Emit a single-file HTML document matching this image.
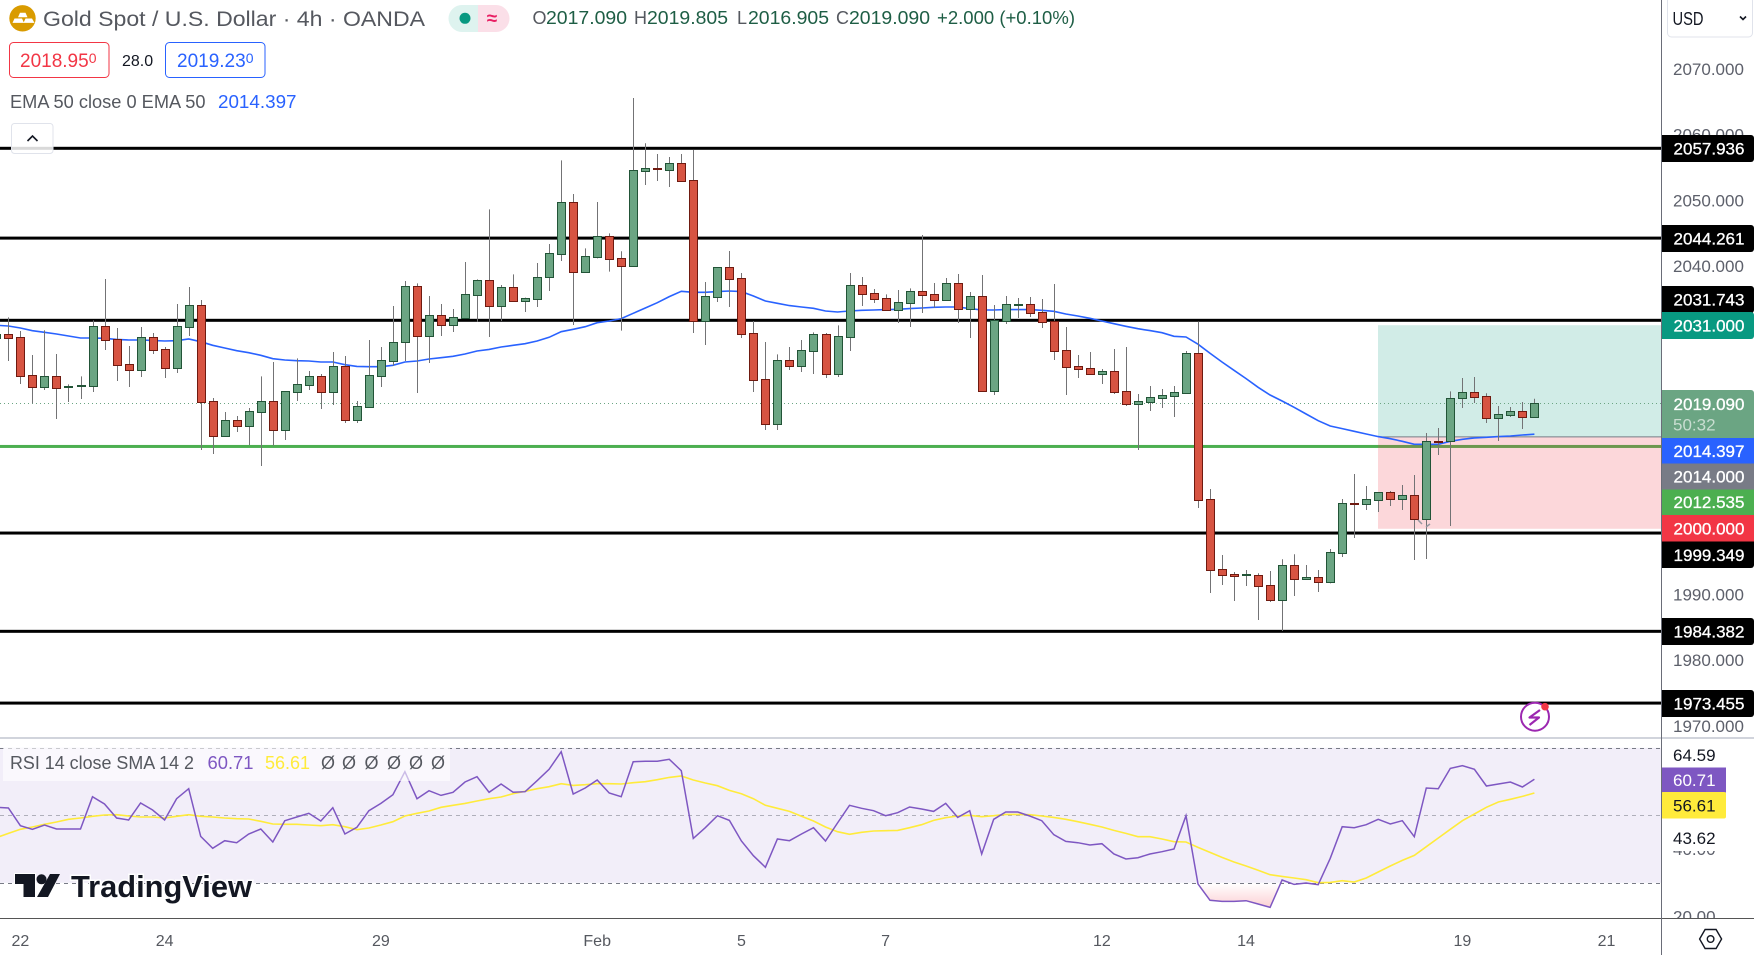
<!DOCTYPE html>
<html lang="en">
<head>
<meta charset="utf-8">
<title>Gold Spot / U.S. Dollar 4h chart</title>
<style>
html,body{margin:0;padding:0;background:#fff;}
body{width:1754px;height:955px;overflow:hidden;}
svg{display:block;}
text{font-family:"Liberation Sans",sans-serif;}
.ax{font-size:17px;fill:#5d606b;}
.lbl{font-size:17px;fill:#fff;text-anchor:middle;stroke:#fff;stroke-width:0.3px;}
.hdr{font-size:18px;fill:#55585f;}
.val{font-size:18px;fill:#1e5e45;}
.tm{font-size:16px;fill:#55585f;text-anchor:middle;}
</style>
</head>
<body>
<svg id="chart" xmlns="http://www.w3.org/2000/svg" width="1754" height="955" viewBox="0 0 1754 955">
<defs>
<clipPath id="mainClip"><rect x="0" y="0" width="1661" height="737"/></clipPath>
<clipPath id="rsiClip"><rect x="0" y="740" width="1661" height="178"/></clipPath>
<linearGradient id="osGrad" gradientUnits="userSpaceOnUse" x1="0" y1="883.3" x2="0" y2="908"><stop offset="0" stop-color="#f23645" stop-opacity="0"/><stop offset="1" stop-color="#f23645" stop-opacity="0.24"/></linearGradient>
</defs>
<rect x="0" y="0" width="1754" height="955" fill="#fff"/>

<g id="mainPane" clip-path="url(#mainClip)">
  <g id="levels"></g>
  <g id="positionBox"></g>
  <g id="lastLine"></g>
  <g id="emaLayer"></g>
  <g id="candles"></g>
  <path d="M1418 520l4 4M1430 524l-4 3" stroke="#9598a1" stroke-width="1.5" fill="none"/>
</g>

<g id="rsiPane" clip-path="url(#rsiClip)"></g>

<!-- separators -->
<rect x="0" y="737" width="1754" height="2" fill="#d1d4dc"/>

<!-- right axis -->
<rect x="1661" y="0" width="93" height="737" fill="#fff"/>
<g id="priceTicksLayer"></g>
<rect x="1661" y="740" width="93" height="178" fill="#fff"/>
<g id="rsiTicksLayer"></g>

<g>
  <path d="M1661 135H1751a3 3 0 0 1 3 3V159a3 3 0 0 1-3 3H1661Z" fill="#000"/><text class="lbl" x="1709" y="154.5">2057.936</text>
  <path d="M1661 225H1751a3 3 0 0 1 3 3V249a3 3 0 0 1-3 3H1661Z" fill="#000"/><text class="lbl" x="1709" y="244.5">2044.261</text>
  <path d="M1661 286H1751a3 3 0 0 1 3 3V310a3 3 0 0 1-3 3H1661Z" fill="#000"/><text class="lbl" x="1709" y="305.5">2031.743</text>
  <path d="M1661 312H1751a3 3 0 0 1 3 3V336a3 3 0 0 1-3 3H1661Z" fill="#089981"/><text class="lbl" x="1709" y="331.5">2031.000</text>
  <path d="M1661 390H1751a3 3 0 0 1 3 3V438H1661Z" fill="#6ba583"/><text class="lbl" x="1709" y="410">2019.090</text>
  <text x="1673" y="430.5" font-size="17" fill="#c8ddd0">50:32</text>
  <rect x="1661" y="438" width="93" height="25.5" fill="#2962ff"/><text class="lbl" x="1709" y="457">2014.397</text>
  <rect x="1661" y="463.5" width="93" height="26" fill="#787b86"/><text class="lbl" x="1709" y="482.5">2014.000</text>
  <rect x="1661" y="489.5" width="93" height="25.5" fill="#4caf50"/><text class="lbl" x="1709" y="508">2012.535</text>
  <rect x="1661" y="515" width="93" height="26.5" fill="#f23645"/><text class="lbl" x="1709" y="534.5">2000.000</text>
  <path d="M1661 541.5H1754V565a3 3 0 0 1-3 3H1661Z" fill="#000"/><text class="lbl" x="1709" y="561">1999.349</text>
  <path d="M1661 618H1751a3 3 0 0 1 3 3V642a3 3 0 0 1-3 3H1661Z" fill="#000"/><text class="lbl" x="1709" y="637.5">1984.382</text>
  <path d="M1661 690H1751a3 3 0 0 1 3 3V714a3 3 0 0 1-3 3H1661Z" fill="#000"/><text class="lbl" x="1709" y="709.5">1973.455</text>
</g>

<g>
  <text x="1673" y="761" font-size="17" fill="#131722">64.59</text>
  <rect x="1661" y="767.5" width="65" height="25" fill="#7e57c2"/>
  <text x="1673" y="786" font-size="17" fill="#fff">60.71</text>
  <rect x="1661" y="792" width="65" height="26.5" fill="#ffeb3b" rx="2"/>
  <text x="1673" y="811.5" font-size="17" fill="#131722">56.61</text>
  <rect x="1661.5" y="819" width="65" height="32" fill="#fff"/>
  <text x="1673" y="844" font-size="17" fill="#131722">43.62</text>
</g>

<!-- bottom axis -->
<rect x="0" y="918.5" width="1754" height="36.5" fill="#fff"/>
<rect x="0" y="918" width="1754" height="1" fill="#555"/>
<rect x="1661" y="0" width="1" height="955" fill="#6a6d78"/>
<g id="timeLabels"></g>
<g fill="none" stroke="#131722" stroke-width="1.4">
  <path d="M1699.6 939l5.5-9.5h11l5.5 9.5-5.5 9.5h-11z"/><circle cx="1710.6" cy="939" r="3.3"/>
</g>

<!-- lightning -->
<g>
  <circle cx="1535" cy="716.7" r="14" fill="#fff" stroke="#9c27b0" stroke-width="2"/>
  <path d="M1540 710L1529.5 717.5H1539L1529.5 725" fill="none" stroke="#9c27b0" stroke-width="2.2" stroke-linejoin="round"/>
  <circle cx="1545" cy="706.7" r="3.8" fill="#f23645"/>
</g>

<!-- header -->
<g>
  <g>
    <circle cx="22.5" cy="18.3" r="13.2" fill="#d99b00"/>
    <path d="M20 12.7h5.5l2 4.5h-9.5zM14.5 18.5h7.5l2 4.4h-11.5zM25.5 18.5h6.5l2.5 4.4h-11z" fill="#fff"/>
  </g>
  <text x="43" y="26" font-size="21" fill="#55585f" textLength="382" lengthAdjust="spacingAndGlyphs">Gold Spot / U.S. Dollar · 4h · OANDA</text>
  <path d="M478 5H462a13.5 13.5 0 0 0 0 27H478Z" fill="#def3ef"/>
  <path d="M478 5H496a13.5 13.5 0 0 1 0 27H478Z" fill="#fbdfe8"/>
  <circle cx="465" cy="18.3" r="5.5" fill="#089981"/>
  <text x="492" y="24.5" font-size="19" font-weight="bold" fill="#e91e63" text-anchor="middle">≈</text>
  <text class="hdr" x="532.5" y="24">O</text><text class="val" x="546" y="24" textLength="81" lengthAdjust="spacingAndGlyphs">2017.090</text>
  <text class="hdr" x="634" y="24">H</text><text class="val" x="647" y="24" textLength="81" lengthAdjust="spacingAndGlyphs">2019.805</text>
  <text class="hdr" x="737" y="24">L</text><text class="val" x="748" y="24" textLength="81" lengthAdjust="spacingAndGlyphs">2016.905</text>
  <text class="hdr" x="836" y="24">C</text><text class="val" x="849" y="24" textLength="81" lengthAdjust="spacingAndGlyphs">2019.090</text>
  <text class="val" x="937" y="24" textLength="138" lengthAdjust="spacingAndGlyphs">+2.000 (+0.10%)</text>
</g>

<g>
  <rect x="9.5" y="42.5" width="99.5" height="35" rx="4" fill="#fff" stroke="#f23645"/>
  <text x="20" y="67" font-size="19" fill="#f23645">2018.95<tspan font-size="14" dy="-4">0</tspan></text>
  <text x="122" y="66" font-size="16" fill="#131722">28.0</text>
  <rect x="165.5" y="42.5" width="99.5" height="35" rx="4" fill="#fff" stroke="#2962ff"/>
  <text x="177" y="67" font-size="19" fill="#2962ff">2019.23<tspan font-size="14" dy="-4">0</tspan></text>
</g>

<g>
  <text x="10" y="108" font-size="18" fill="#55585f" textLength="195.5" lengthAdjust="spacingAndGlyphs">EMA 50 close 0 EMA 50</text>
  <text x="218" y="108" font-size="18" fill="#2962ff" textLength="78.5" lengthAdjust="spacingAndGlyphs">2014.397</text>
</g>
<g>
  <rect x="11.5" y="123.5" width="41.5" height="30" rx="3" fill="#fff" fill-opacity="0.85" stroke="#e0e3eb"/>
  <path d="M27.5 141l5-5 5 5" fill="none" stroke="#131722" stroke-width="1.6"/>
</g>

<!-- rsi legend -->
<g>
  <rect x="3" y="748" width="447" height="33" fill="#fff" fill-opacity="0.6"/>
  <text x="10" y="769" font-size="18" fill="#55585f" textLength="184" lengthAdjust="spacingAndGlyphs">RSI 14 close SMA 14 2</text>
  <text x="207.5" y="769" font-size="18" fill="#7e57c2" textLength="46" lengthAdjust="spacingAndGlyphs">60.71</text>
  <text x="265" y="769" font-size="18" fill="#ffeb3b" textLength="45" lengthAdjust="spacingAndGlyphs">56.61</text>
  <text font-size="18" fill="#55585f" y="769" x="321 342 364.5 387 409 431">ØØØØØØ</text>
</g>

<!-- watermark -->
<g>
  <path d="M15 874H35V897H23.5V884H15Z" fill="#131722" stroke="#fff" stroke-width="2" paint-order="stroke"/>
  <circle cx="41.5" cy="879.3" r="5" fill="#131722"/>
  <path d="M50 874H60L48 897H37Z" fill="#131722"/>
  <text x="71" y="897" font-size="31" font-weight="bold" fill="#131722" stroke="#fff" stroke-width="3" paint-order="stroke" textLength="181" lengthAdjust="spacingAndGlyphs">TradingView</text>
</g>

<!-- USD -->
<g>
  <rect x="1667.5" y="-3" width="85" height="40" rx="4" fill="#fff" stroke="#e0e3eb"/>
  <text x="1672.5" y="25" font-size="18" fill="#131722" textLength="31" lengthAdjust="spacingAndGlyphs">USD</text>
  <path d="M1740 16.5l3 3 3-3" fill="none" stroke="#131722" stroke-width="1.6"/>
</g>

<script>
// ---- chart data (prices) ----
const opens = [2029.10,
2029.61,2029.15,2023.36,2021.64,2023.21,2021.64,2021.79,2021.79,2030.82,2028.84,
2025.04,2024.23,2029.15,2027.32,2024.53,2030.77,2034.02,2019.40,2014.17,2016.51,
2015.70,2017.83,2019.40,2015.09,2020.88,2021.94,2023.21,2020.88,2024.73,2016.61,
2018.59,2023.31,2025.60,2028.39,2036.92,2029.40,2032.50,2031.08,2032.14,2035.65,
2037.83,2033.97,2036.76,2034.73,2035.04,2038.29,2041.89,2049.71,2039.15,2041.43,
2044.53,2041.18,2040.07,2054.53,2054.89,2054.69,2055.65,2053.06,2031.69,2035.35,
2039.81,2038.14,2029.76,2022.76,2016.01,2025.65,2024.84,2027.12,2029.61,2023.62,
2029.25,2037.07,2035.85,2035.09,2033.37,2034.43,2036.16,2035.70,2034.89,2037.38,
2033.52,2035.40,2021.03,2031.69,2034.13,2034.18,2032.96,2031.59,2027.17,2024.74,
2024.43,2023.62,2023.98,2020.93,2019.05,2019.36,2019.97,2020.27,2020.73,2026.72,
2004.49,1993.83,1993.06,1993.01,1993.01,1991.39,1989.21,1994.44,1992.40,1992.61,
1991.95,1996.36,2003.88,2003.72,2004.43,2005.55,2004.59,2005.09,2001.54,2013.32,
2013.32,2019.87,2020.78,2020.17,2016.92,2017.38,2017.89,2017.09];

const highs = [2032.00,
2032.19,2030.11,2026.46,2030.22,2026.61,2021.99,2023.21,2031.74,2038.03,2030.57,
2027.83,2030.72,2029.81,2027.68,2034.23,2036.81,2034.83,2019.91,2017.78,2017.17,
2018.39,2023.21,2025.39,2020.93,2025.95,2024.02,2023.57,2026.92,2026.31,2019.45,
2028.74,2027.68,2033.92,2037.73,2037.37,2035.44,2034.23,2033.46,2040.62,2037.98,
2048.64,2037.12,2038.74,2035.19,2040.47,2043.36,2056.10,2050.98,2042.70,2049.76,
2044.99,2042.25,2065.60,2058.70,2057.07,2056.61,2057.07,2057.68,2037.58,2039.81,
2042.30,2038.95,2031.64,2028.44,2026.56,2027.68,2028.75,2029.91,2029.81,2030.98,
2038.95,2038.34,2036.51,2035.70,2036.36,2036.61,2044.74,2037.43,2038.19,2038.80,
2036.06,2038.65,2034.08,2035.45,2035.14,2035.30,2034.99,2037.27,2030.73,2026.46,
2026.92,2024.33,2027.38,2027.68,2020.52,2021.74,2021.29,2021.74,2027.07,2031.59,
2006.06,1996.01,1993.42,1993.72,1993.22,1993.57,1995.35,1996.11,1994.49,1993.72,
1996.92,2004.54,2008.34,2006.52,2005.60,2005.75,2006.67,2008.19,2014.59,2015.35,
2020.93,2022.96,2023.11,2020.63,2018.70,2018.55,2019.31,2019.805];

const lows = [2025.50,
2025.55,2022.04,2019.10,2021.13,2016.71,2019.30,2019.76,2020.82,2027.22,2022.50,
2021.59,2023.11,2026.61,2022.96,2023.72,2029.35,2011.99,2011.38,2014.17,2014.73,
2012.75,2009.56,2012.65,2013.52,2019.45,2021.13,2018.24,2018.84,2016.10,2016.10,
2018.59,2021.59,2024.83,2025.55,2020.67,2025.24,2029.35,2029.96,2032.14,2031.48,
2029.20,2031.64,2034.58,2033.01,2033.77,2036.21,2040.77,2031.03,2039.15,2041.18,
2039.15,2030.17,2040.07,2052.35,2052.96,2052.05,2052.86,2029.81,2027.99,2034.53,
2033.77,2029.05,2020.83,2015.04,2015.04,2024.18,2023.87,2023.57,2022.96,2023.11,
2027.07,2033.92,2034.38,2033.32,2031.34,2030.73,2032.86,2033.67,2034.89,2031.34,
2029.05,2021.03,2020.37,2031.18,2032.10,2032.25,2030.57,2025.70,2020.37,2022.96,
2023.57,2022.05,2020.52,2018.70,2012.00,2017.94,2018.39,2017.02,2020.73,2003.17,
1990.22,1991.44,1989.00,1991.29,1986.11,1988.85,1984.44,1989.76,1992.35,1990.37,
1991.69,1995.70,1998.60,2002.86,2002.56,2003.47,2002.86,1995.25,1995.40,2011.24,
2000.42,2018.39,2019.16,2016.11,2013.37,2017.02,2015.20,2016.905];

const closes = [2029.61,
2029.10,2023.31,2021.64,2023.21,2021.48,2021.69,2021.84,2030.82,2028.79,2024.99,
2024.23,2029.15,2027.27,2024.53,2030.82,2034.02,2019.35,2014.17,2016.51,2015.70,
2017.88,2019.40,2015.09,2020.93,2021.99,2023.21,2020.88,2024.73,2016.61,2018.64,
2023.36,2025.65,2028.39,2036.92,2029.40,2032.50,2031.08,2032.19,2035.70,2037.83,
2033.97,2036.76,2034.73,2035.09,2038.29,2041.94,2049.71,2039.15,2041.49,2044.53,
2041.13,2040.07,2054.58,2054.89,2054.84,2055.65,2053.01,2031.69,2035.40,2039.81,
2038.09,2029.71,2022.71,2016.01,2025.65,2024.84,2027.17,2029.61,2023.62,2029.31,
2037.07,2035.80,2035.04,2033.37,2034.48,2036.16,2035.65,2034.89,2037.38,2033.52,
2035.40,2021.03,2031.74,2034.18,2034.18,2032.91,2031.54,2027.12,2024.69,2024.38,
2023.62,2023.98,2020.88,2019.05,2019.41,2020.02,2020.32,2020.78,2026.72,2004.43,
1993.78,1993.01,1992.86,1993.06,1991.34,1989.21,1994.44,1992.40,1992.61,1991.95,
1996.41,2003.88,2003.72,2004.49,2005.60,2004.59,2005.09,2001.54,2013.32,2013.22,
2019.87,2020.78,2020.12,2016.92,2017.43,2017.89,2017.07,2019.09];

const emaValues = [2030.98,
2030.88,2030.57,2030.16,2029.91,2029.66,2029.35,2029.05,2029.05,2029.00,2028.84,
2028.74,2028.74,2028.69,2028.59,2028.64,2028.90,2028.49,2027.93,2027.52,2027.12,
2026.81,2026.41,2025.90,2025.70,2025.60,2025.55,2025.39,2025.39,2024.99,2024.73,
2024.68,2024.68,2024.89,2025.39,2025.55,2025.85,2026.05,2026.26,2026.61,2027.07,
2027.32,2027.68,2027.93,2028.18,2028.59,2029.15,2030.01,2030.37,2030.77,2031.38,
2031.64,2032.00,2032.81,2033.62,2034.43,2035.35,2036.16,2036.01,2036.01,2036.11,
2036.21,2036.11,2035.45,2034.69,2034.33,2033.98,2033.77,2033.57,2033.16,2033.01,
2033.16,2033.26,2033.32,2033.37,2033.42,2033.52,2033.62,2033.72,2033.77,2033.77,
2033.52,2033.32,2033.32,2033.37,2033.37,2033.37,2033.26,2033.11,2032.71,2032.40,
2032.05,2031.64,2031.23,2030.83,2030.47,2030.17,2029.86,2029.31,2029.20,2028.10,
2026.72,2025.40,2024.13,2022.86,2021.54,2020.37,2019.46,2018.50,2017.48,2016.46,
2015.65,2015.25,2014.84,2014.43,2014.03,2013.72,2013.32,2012.86,2012.86,2012.86,
2013.32,2013.62,2013.83,2013.93,2014.03,2014.13,2014.28,2014.397];

const rsiValues = [52.36,
52.16,46.92,45.84,47.12,45.94,45.94,45.94,55.52,53.34,49.19,
48.60,53.64,51.57,48.60,54.92,57.89,43.76,40.21,42.48,41.89,
44.45,45.94,42.08,48.40,49.49,50.58,48.31,52.26,44.45,46.43,
51.37,53.54,56.11,62.92,54.92,57.29,55.91,56.80,59.86,61.44,
56.80,59.27,56.80,57.00,60.26,63.62,68.85,56.31,58.08,60.45,
56.60,55.52,65.89,65.99,65.99,66.58,63.22,43.17,46.33,49.89,
48.50,42.38,38.03,34.58,42.97,42.48,44.45,46.33,42.38,47.71,
52.95,52.06,51.37,49.89,50.78,52.45,51.86,51.17,53.54,49.39,
51.37,38.53,48.80,50.97,50.97,49.79,48.40,44.26,42.28,41.89,
41.19,41.59,38.53,37.05,37.44,38.53,39.22,40.01,49.89,29.64,
24.80,24.50,24.50,24.70,23.71,22.72,30.82,29.54,29.93,29.44,
37.24,46.63,46.33,47.22,48.80,47.42,48.40,43.66,58.08,57.89,
63.91,64.70,63.62,58.68,59.27,59.86,58.38,60.71];

const rsiSmaValues = [43.37,
44.65,45.84,46.53,47.32,48.01,48.80,49.19,49.69,50.08,50.18,
49.79,49.49,49.49,49.19,49.69,50.18,49.69,49.49,49.19,49.00,
48.90,48.21,47.42,47.32,47.32,47.12,46.92,47.22,46.63,45.74,
46.23,47.12,48.11,49.79,50.58,51.27,52.36,52.95,53.54,54.23,
54.92,55.42,56.40,57.10,57.89,58.48,59.37,58.87,59.07,59.37,
59.37,59.27,59.66,59.96,60.55,61.24,61.64,60.45,59.57,58.78,
57.39,56.40,54.92,52.95,52.06,51.17,49.69,48.31,46.53,45.15,
44.36,44.95,45.34,45.44,45.54,46.33,47.22,48.50,49.29,49.79,
49.99,49.59,49.89,50.28,50.28,50.18,49.79,49.39,48.80,48.11,
47.32,46.53,45.54,44.65,43.66,43.66,42.97,42.18,42.08,40.50,
39.02,37.54,36.16,34.97,33.69,32.40,31.91,31.42,30.92,30.03,
30.13,30.63,30.23,31.42,33.19,34.97,36.65,38.13,40.70,43.27,
45.84,48.40,50.38,52.36,53.94,54.73,55.61,56.61];

const levelPrices = [2057.936,2044.261,2031.743,1999.349,1984.382,1973.455];
const greenLevelPrice = [2012.535];
const lastPrice = [2019.09];
const positionPrices = [2031,2014,2000];
const priceTickValues = [2070,2060,2050,2040,1990,1980,1970];
const rsiTickValues = [40,20];
const rsiBandLevels = [70,50,30];
const timeTickLabels = ['22','24','29','Feb','5','7','12','14','19','21'];
const timeTickBars = [2,14,32,50,62,74,92,104,122,134];

// ---- axis functions ----
function xBar(i){ return -3.6 + 12.016*i; }
function yPrice(p){ return 148.3 + (2057.936 - p)*6.567; }
function yRsi(r){ return 815.3 - (r - 50)*3.375; }
function px(v){ return Math.round(v) + 0.5; }

const NS = 'http://www.w3.org/2000/svg';
function make(tag, attrs, parent){
  const el = document.createElementNS(NS, tag);
  for (const k in attrs) el.setAttribute(k, attrs[k]);
  parent.appendChild(el);
  return el;
}

// levels
const levelsG = document.getElementById('levels');
levelPrices.forEach(function(p){
  const ln = make('rect', {x:0, y:yPrice(p)-1.5, width:1661, height:3, fill:'#000'}, levelsG);
  
  
});
greenLevelPrice.forEach(function(p){
  const ln = make('rect', {x:0, y:yPrice(p)-1.5, width:1661, height:3, fill:'#4caf50'}, levelsG);
  
  
});

// position tool
const posG = document.getElementById('positionBox');
const yTp = yPrice(positionPrices[0]), yEn = yPrice(positionPrices[1]), ySl = yPrice(positionPrices[2]);
const tpBox = make('rect', {x:1378, y:yTp, width:283, height:yEn-yTp, fill:'#089981', 'fill-opacity':0.19}, posG);


const slBox = make('rect', {x:1378, y:yEn, width:283, height:ySl-yEn, fill:'#f23645', 'fill-opacity':0.2}, posG);


const enLine = make('line', {x1:1378, x2:1661, y1:yEn, y2:yEn, stroke:'#787b86', 'stroke-width':1}, posG);



// last price dotted line
const lastLn = make('line', {x1:0, x2:1661, y1:px(yPrice(lastPrice[0])), y2:px(yPrice(lastPrice[0])),
  stroke:'#6ba583', 'stroke-width':1, 'stroke-dasharray':'1 3'}, document.getElementById('lastLine'));



// EMA
const emaPath = make('polyline', {fill:'none', stroke:'#2962ff', 'stroke-width':1.6,
  points: emaValues.map(function(v,i){ return xBar(i).toFixed(1)+','+yPrice(v).toFixed(1); }).join(' ')},
  document.getElementById('emaLayer'));



// candles
const candlesG = document.getElementById('candles');
opens.forEach(function(o, i){
  const c = closes[i];
  const up = c >= o;
  const cx = px(xBar(i));
  const g = make('g', {}, candlesG);
  
  
  make('line', {x1:cx, x2:cx, y1:yPrice(highs[i]), y2:yPrice(lows[i]), stroke:'#737375', 'stroke-width':1}, g);
  const top = px(yPrice(Math.max(o,c)));
  const bot = px(yPrice(Math.min(o,c)));
  make('rect', {x:cx-4, y:top, width:8, height:Math.max(bot-top,0.01),
    fill: up ? '#6ba583' : '#d75442',
    stroke: up ? '#225437' : '#6f1a10', 'stroke-width':1}, g);
});

// price ticks
const ptG = document.getElementById('priceTicksLayer');
priceTickValues.forEach(function(p){
  const t = make('text', {class:'ax', x:1673, y:yPrice(p)+6}, ptG);
  
  
  t.textContent = p.toFixed(3);
});

// RSI pane
const rsiG = document.getElementById('rsiPane');
const band = make('rect', {x:0, y:yRsi(rsiBandLevels[0]), width:1661, height:yRsi(rsiBandLevels[2])-yRsi(rsiBandLevels[0]), fill:'#7e57c2', 'fill-opacity':0.1}, rsiG);


rsiBandLevels.forEach(function(l, k){
  const d = make('line', {x1:0, x2:1661, y1:px(yRsi(l)), y2:px(yRsi(l)), stroke:'#787b86',
    'stroke-opacity': k===1 ? 0.55 : 1, 'stroke-width':1, 'stroke-dasharray':'4 4'}, rsiG);
  
  
});
// oversold fill: every stretch of RSI below the lower band
(function(){
  const y30 = yRsi(rsiBandLevels[2]);
  const defs = document.querySelector('defs');
  const clip = make('clipPath', {id:'osClip'}, defs);
  make('rect', {x:0, y:y30, width:1661, height:60}, clip);
  const pts = rsiValues.map(function(v,i){ return xBar(i).toFixed(1)+','+yRsi(v).toFixed(1); });
  const first = xBar(0).toFixed(1), last = xBar(rsiValues.length-1).toFixed(1);
  const fillG = make('g', {'clip-path':'url(#osClip)'}, rsiG);
  const area = make('polygon', {points: first+','+y30+' '+pts.join(' ')+' '+last+','+y30, fill:'url(#osGrad)'}, fillG);
  
  
})();
const smaLine = make('polyline', {fill:'none', stroke:'#ffeb3b', 'stroke-width':1.6,
  points: rsiSmaValues.map(function(v,i){ return xBar(i).toFixed(1)+','+yRsi(v).toFixed(1); }).join(' ')}, rsiG);


const rsiLine = make('polyline', {fill:'none', stroke:'#7e57c2', 'stroke-width':1.5,
  points: rsiValues.map(function(v,i){ return xBar(i).toFixed(1)+','+yRsi(v).toFixed(1); }).join(' ')}, rsiG);



// RSI ticks
const rtG = document.getElementById('rsiTicksLayer');
rsiTickValues.forEach(function(r){
  const t = make('text', {class:'ax', x:1673, y:yRsi(r)+6}, rtG);
  
  
  t.textContent = r.toFixed(2);
});

// time axis
const tG = document.getElementById('timeLabels');
timeTickLabels.forEach(function(lbl, k){
  const t = make('text', {class:'tm', x:xBar(timeTickBars[k]), y:946}, tG);
  
  
  t.textContent = lbl;
});
</script>
</svg>
</body>
</html>
